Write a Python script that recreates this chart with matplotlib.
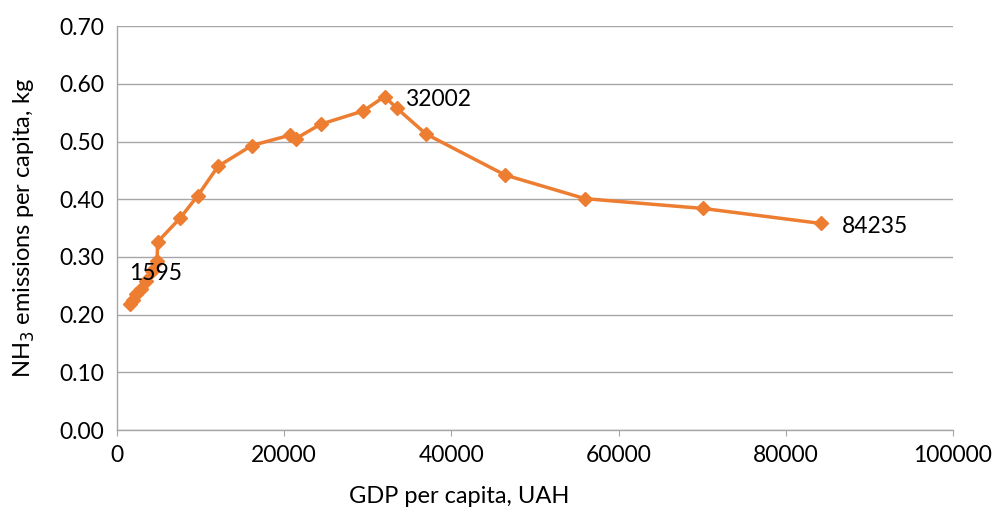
import matplotlib
matplotlib.use('Agg')
import matplotlib.pyplot as plt

plt.rcParams['font.family'] = ['Lato', 'DejaVu Sans']

# GDP per capita (UAH) vs NH3 emissions per capita (kg)
gdp = [1595, 1900, 2300, 2900, 3500, 4200, 4800, 4850, 7530, 9650, 12080,
       16110, 20690, 21380, 24360, 29460, 32002, 33450, 36960, 46410,
       55980, 70130, 84235]
nh3 = [0.219, 0.226, 0.236, 0.245, 0.258, 0.275, 0.293, 0.326, 0.367, 0.406,
       0.457, 0.493, 0.511, 0.505, 0.530, 0.553, 0.578, 0.558, 0.513, 0.442,
       0.401, 0.384, 0.358]
labelled = [1595, 32002, 84235]

orange = '#ED7D31'
grid_c = '#A6A6A6'
fs = 16.5

fig = plt.figure(figsize=(9.95, 5.12), dpi=100)
ax = fig.add_axes([0.1176, 0.160, 0.8402, 0.789])

ax.plot(gdp, nh3, color=orange, lw=2.5, marker='D', ms=7, mec=orange, mfc=orange, zorder=3)

for x, y in zip(gdp, nh3):
    if x in labelled:
        if x == 1595:
            ax.annotate(str(x), (x, y), xytext=(-1, 22), textcoords='offset points',
                        ha='left', va='center', fontsize=fs)
        else:
            ax.annotate(str(x), (x, y), xytext=(15, -2), textcoords='offset points',
                        ha='left', va='center', fontsize=fs)

ax.set_xlim(0, 100000)
ax.set_ylim(0, 0.70)
ax.set_xticks(range(0, 100001, 20000))
ax.set_yticks([i / 10 for i in range(8)])
ax.set_yticklabels(['%.2f' % (i / 10) for i in range(8)])
ax.tick_params(labelsize=fs, length=0, pad=9)
ax.tick_params(axis='x', length=4, color=grid_c, direction='out', pad=7)

ax.grid(axis='y', color=grid_c, lw=1)
ax.set_axisbelow(True)
for s in ['top', 'right']:
    ax.spines[s].set_visible(False)
for s in ['left', 'bottom']:
    ax.spines[s].set_color(grid_c)
    ax.spines[s].set_linewidth(1)

ax.set_xlabel('GDP per capita, UAH', fontsize=17)
ax.xaxis.set_label_coords(0.409, -0.138)
ax.set_ylabel('NH$_3$ emissions per capita, kg', fontsize=17, labelpad=16)

fig.savefig('out.png', dpi=100)
